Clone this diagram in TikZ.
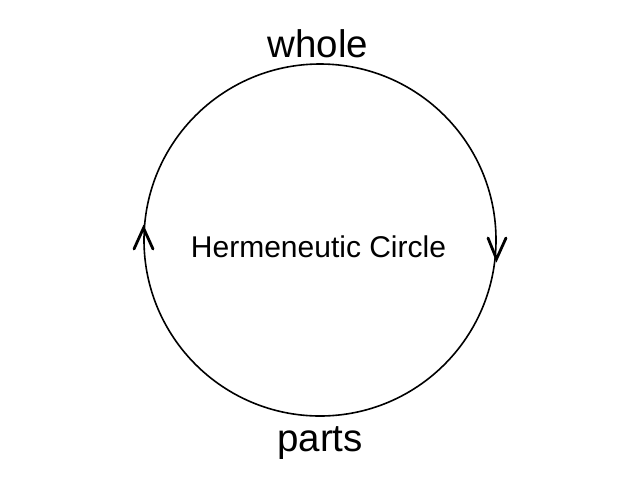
\documentclass[tikz,border=0pt]{standalone}
\usepackage{fontspec}
\setmainfont{Liberation Sans}
\begin{document}
\begin{tikzpicture}[x=1pt,y=-1pt,
  label text/.style={inner sep=0pt,anchor=base,font=\fontsize{38.5}{46}\selectfont},
  center text/.style={inner sep=0pt,anchor=base,font=\fontsize{30}{36}\selectfont},
  ring/.style={draw=black,line width=1.6pt},
  head/.style={draw=black,line width=2.8pt,line cap=round,line join=miter}]
\useasboundingbox[fill=white] (0,0) rectangle (640,480);
\node[ring,circle,minimum size=352pt,inner sep=0pt] (c) at (320,240) {};
\node[label text] (whole) at (318,57) {whole};
\node[label text] (parts) at (320,451) {parts};
\node[center text] (title) at (318.5,257) {Hermeneutic Circle};
% arrowheads on the circle
\draw[head] (134,249) -- (143.5,228) -- (153,249);
\draw[head] (488,238) -- (496.5,259) -- (506,238);
\end{tikzpicture}
\end{document}
